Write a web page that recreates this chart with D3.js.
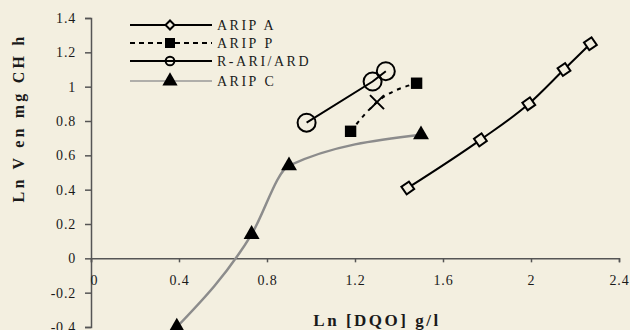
<!DOCTYPE html>
<html>
<head>
<meta charset="utf-8">
<script src="https://cdn.jsdelivr.net/npm/d3@7"></script>
<style>
  body { margin: 0; background: #f3efe0; }
  svg { display: block; font-family: "Liberation Serif", "DejaVu Serif", serif; }
</style>
</head>
<body>
<div class="chart"></div>
<script>
// values
const aripA_x = [1.44, 1.77, 1.99, 2.15, 2.27];
const aripA_y = [0.41, 0.69, 0.90, 1.10, 1.25];
const aripP_x = [1.18, 1.30, 1.48];
const aripP_y = [0.74, 0.91, 1.02];
const aripP_mark = ["square", "cross", "square"];
const rari_x = [0.98, 1.28, 1.34];
const rari_y = [0.79, 1.03, 1.09];
const aripC_x = [0.39, 0.73, 0.90, 1.50];
const aripC_y = [-0.40, 0.14, 0.54, 0.72];
const xTicks = [0, 0.4, 0.8, 1.2, 1.6, 2, 2.4];
const yTicks = [-0.4, -0.2, 0, 0.2, 0.4, 0.6, 0.8, 1, 1.2, 1.4];
const legendNames = ["ARIP A", "ARIP P", "R-ARI/ARD", "ARIP C"];

const width = 630, height = 330;
const svg = d3.select(".chart").append("svg")
    .attr("width", width)
    .attr("height", height);

svg.append("rect").attr("width", width).attr("height", height).attr("fill", "#f3efe0");

const x = d3.scaleLinear().domain([0, 2.4]).range([91, 619]);
const y = d3.scaleLinear().domain([-0.4, 1.4]).range([327, 18]);

const fmt = d => String(+d.toFixed(1));

// y axis
const yAxis = svg.append("g")
    .attr("transform", "translate(" + x(0) + ",0)")
    .call(d3.axisLeft(y).tickValues(yTicks).tickSize(6).tickPadding(9).tickFormat(fmt));
// x axis
const xAxis = svg.append("g")
    .attr("transform", "translate(0," + y(0) + ")")
    .call(d3.axisBottom(x).tickValues(xTicks).tickSize(4).tickPadding(13).tickFormat(fmt));

[yAxis, xAxis].forEach(a => {
  a.select(".domain").attr("stroke", "#555").attr("stroke-width", 1.5);
  a.selectAll(".tick line").attr("stroke", "#555").attr("stroke-width", 1.5);
  a.selectAll("text").attr("font-size", 14).attr("fill", "#1a1a1a")
    .attr("letter-spacing", 0.8)
    .attr("font-family", "Liberation Serif, serif");
});
xAxis.selectAll(".tick").filter(d => d === 0).select("text").attr("dx", 3);

// axis titles
svg.append("text")
    .attr("transform", "translate(24,118) rotate(-90)")
    .attr("text-anchor", "middle")
    .attr("font-weight", "bold")
    .attr("font-size", 16)
    .attr("letter-spacing", 3.2)
    .attr("fill", "#1a1a1a")
    .text("Ln V en mg CH h");
svg.append("text")
    .attr("x", 377).attr("y", 326)
    .attr("text-anchor", "middle")
    .attr("font-weight", "bold")
    .attr("font-size", 17)
    .attr("letter-spacing", 2.5)
    .attr("fill", "#1a1a1a")
    .text("Ln [DQO] g/l");

const zip = (xs, ys) => xs.map((v, i) => [v, ys[i]]);
const line = d3.line().x(d => x(d[0])).y(d => y(d[1])).curve(d3.curveMonotoneX);

// ARIP C grey smoothed line
svg.append("path").datum(zip(aripC_x, aripC_y))
    .attr("d", line).attr("fill", "none")
    .attr("stroke", "#8c8c8c").attr("stroke-width", 2.5);
// ARIP A
svg.append("path").datum(zip(aripA_x, aripA_y))
    .attr("d", line).attr("fill", "none")
    .attr("stroke", "#000").attr("stroke-width", 2);
// ARIP P dashed
svg.append("path").datum(zip(aripP_x, aripP_y))
    .attr("d", line).attr("fill", "none")
    .attr("stroke", "#000").attr("stroke-width", 2)
    .attr("stroke-dasharray", "4,5");
// R-ARI/ARD
svg.append("path").datum(zip(rari_x, rari_y))
    .attr("d", d3.line().x(d => x(d[0])).y(d => y(d[1])))
    .attr("fill", "none")
    .attr("stroke", "#000").attr("stroke-width", 2);

// markers
svg.selectAll("path.diamond")
    .data(zip(aripA_x, aripA_y))
    .enter().append("path")
    .attr("class", "diamond")
    .attr("d", d3.symbol().type(d3.symbolSquare).size(85))
    .attr("transform", d => "translate(" + x(d[0]) + "," + y(d[1]) + ") rotate(55)")
    .attr("fill", "#f3efe0").attr("stroke", "#000").attr("stroke-width", 2);

svg.selectAll("path.pmark")
    .data(zip(aripP_x, aripP_y))
    .enter().append("path")
    .attr("class", "pmark")
    .attr("d", (d, i) => aripP_mark[i] === "square"
        ? d3.symbol().type(d3.symbolSquare).size(130)()
        : d3.symbol().type(d3.symbolX).size(130)())
    .attr("transform", d => "translate(" + x(d[0]) + "," + y(d[1]) + ")")
    .attr("fill", (d, i) => aripP_mark[i] === "square" ? "#000" : "none")
    .attr("stroke", "#000").attr("stroke-width", (d, i) => aripP_mark[i] === "square" ? 0 : 2);

svg.selectAll("circle.rari")
    .data(zip(rari_x, rari_y))
    .enter().append("circle")
    .attr("class", "rari")
    .attr("cx", d => x(d[0])).attr("cy", d => y(d[1]))
    .attr("r", 9)
    .attr("fill", "none").attr("stroke", "#000").attr("stroke-width", 2);

svg.selectAll("path.tri")
    .data(zip(aripC_x, aripC_y))
    .enter().append("path")
    .attr("class", "tri")
    .attr("d", d3.symbol().type(d3.symbolTriangle).size(110))
    .attr("transform", d => "translate(" + x(d[0]) + "," + y(d[1]) + ")")
    .attr("fill", "#000");

// legend
const legY = [25, 43, 61, 81];
const lg = svg.append("g");
legendNames.forEach((name, i) => {
  const ln = lg.append("line")
      .attr("x1", 130).attr("x2", 212)
      .attr("y1", legY[i]).attr("y2", legY[i])
      .attr("stroke", i === 3 ? "#999" : "#000")
      .attr("stroke-width", i === 3 ? 1.5 : 2);
  if (i === 1) ln.attr("stroke-dasharray", "5,4");
  const m = lg.append("path").attr("transform", "translate(170," + legY[i] + ")" + (i === 0 ? " rotate(45)" : ""));
  if (i === 0) m.attr("d", d3.symbol().type(d3.symbolSquare).size(40)())
      .attr("fill", "#f3efe0").attr("stroke", "#000").attr("stroke-width", 2);
  if (i === 1) m.attr("d", d3.symbol().type(d3.symbolSquare).size(100)()).attr("fill", "#000");
  if (i === 2) m.attr("d", d3.symbol().type(d3.symbolCircle).size(60)())
      .attr("fill", "none").attr("stroke", "#000").attr("stroke-width", 2);
  if (i === 3) m.attr("d", d3.symbol().type(d3.symbolTriangle).size(100)()).attr("fill", "#000");
  lg.append("text")
      .attr("x", 217).attr("y", legY[i] + 5)
      .attr("font-size", 14)
      .attr("letter-spacing", 2.5)
      .attr("fill", "#1a1a1a")
      .text(name);
});
</script>
</body>
</html>
